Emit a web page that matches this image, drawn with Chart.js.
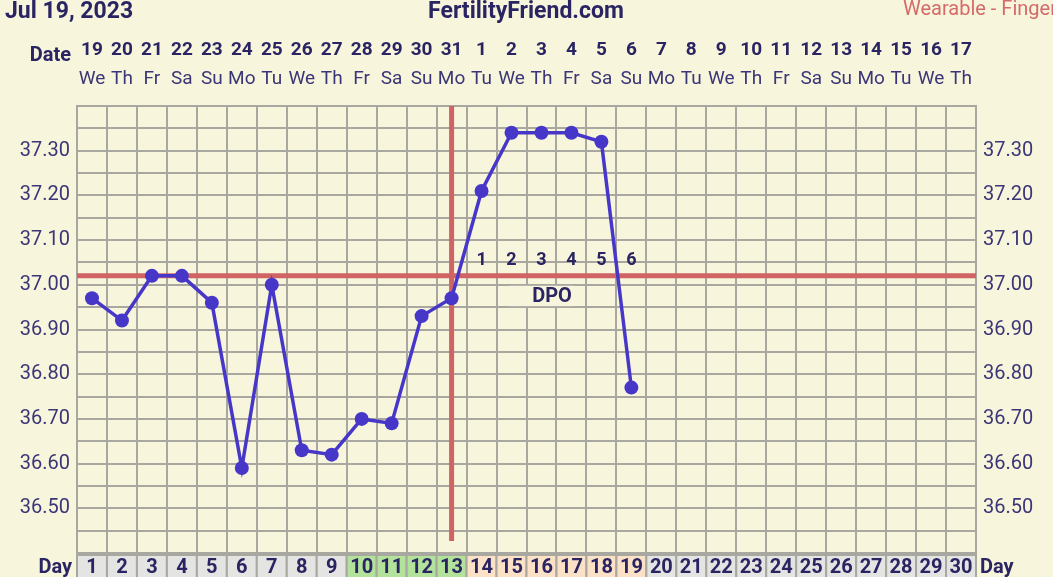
<!DOCTYPE html>
<html>
<head>
<meta charset="utf-8">
<script src="https://cdn.jsdelivr.net/npm/chart.js@4"></script>
<style>
  html, body { margin: 0; padding: 0; background: #f8f5dd; }
  #wrap { width: 1053px; height: 577px; }
</style>
</head>
<body>
<div id="wrap"><canvas id="myChart" width="1053" height="577"></canvas></div>
<script>
const cycleDays = [];
for (let d = 1; d <= 30; d++) cycleDays.push(d);
const dateNums = [19, 20, 21, 22, 23, 24, 25, 26, 27, 28, 29, 30, 31, 1, 2, 3, 4, 5, 6, 7, 8, 9, 10, 11, 12, 13, 14, 15, 16, 17];
const weekDays = ["We", "Th", "Fr", "Sa", "Su", "Mo", "Tu", "We", "Th", "Fr", "Sa", "Su", "Mo", "Tu", "We", "Th", "Fr", "Sa", "Su", "Mo", "Tu", "We", "Th", "Fr", "Sa", "Su", "Mo", "Tu", "We", "Th"];
const temps = [36.97, 36.92, 37.02, 37.02, 36.96, 36.59, 37.00, 36.63, 36.62, 36.70, 36.69, 36.93, 36.97, 37.21, 37.34, 37.34, 37.34, 37.32, 36.77];
const fertileDays = [10, 11, 12, 13];
const dpoDays = [14, 15, 16, 17, 18, 19];
const ovulationDay = 13;
const coverLine = 37.02;

const navy = "#2a2562";
const red = "#d06363";
const gridGray = "#a8a7a0";

const fertilityPlugin = {
    id: "fertility",
    beforeDraw(chart) {
        const c = chart.ctx;
        c.save();
        c.fillStyle = "#f8f5dd";
        c.fillRect(0, 0, chart.width, chart.height);
        c.restore();
    },
    beforeDatasetsDraw(chart) {
        const c = chart.ctx;
        const x = chart.scales.x;
        const y = chart.scales.y;
        const area = chart.chartArea;
        c.save();
        // cover line
        c.strokeStyle = red;
        c.lineWidth = 5;
        const yc = y.getPixelForValue(coverLine);
        c.beginPath();
        c.moveTo(area.left, yc);
        c.lineTo(area.right, yc);
        c.stroke();
        // ovulation line
        const xo = x.getPixelForValue(ovulationDay - 1);
        c.beginPath();
        c.moveTo(xo, area.top);
        c.lineTo(xo, area.bottom - 12);
        c.stroke();
        // DPO numbers
        c.fillStyle = navy;
        c.font = "bold 18px Roboto";
        c.textAlign = "center";
        c.textBaseline = "middle";
        dpoDays.forEach((d, i) => {
            c.fillText(String(i + 1), x.getPixelForValue(d - 1), yc - 15);
        });
        // DPO box
        const bx0 = x.getPixelForValue(14) - 2;
        const bx1 = x.getPixelForValue(16) + 3;
        const by0 = y.getPixelForValue(37.0) + 1;
        const by1 = y.getPixelForValue(36.95) - 1;
        c.fillStyle = "#f8f5dd";
        c.fillRect(bx0, by0, bx1 - bx0, by1 - by0);
        c.fillStyle = navy;
        c.font = "bold 20px Roboto";
        c.fillText("DPO", (bx0 + bx1) / 2 + 10, (by0 + by1) / 2 + 1);
        c.restore();
    },
    afterDraw(chart) {
        const c = chart.ctx;
        const x = chart.scales.x;
        const area = chart.chartArea;
        const colW = x.width / cycleDays.length;
        c.save();
        c.textBaseline = "middle";
        // title row
        c.fillStyle = navy;
        c.font = "bold 23px Roboto";
        c.textAlign = "left";
        c.fillText("Jul 19, 2023", 5, 12);
        c.textAlign = "center";
        c.fillText("FertilityFriend.com", 526, 12);
        c.fillStyle = "#d56a6a";
        c.font = "20px Roboto";
        c.textAlign = "left";
        c.fillText("Wearable - Finger", 903, 10);
        // date header
        c.fillStyle = navy;
        c.font = "bold 20px Roboto";
        c.textAlign = "right";
        c.fillText("Date", 71, 56);
        c.textAlign = "center";
        cycleDays.forEach((d, i) => {
            const px = x.getPixelForValue(i);
            c.fillStyle = navy;
            c.font = "bold 19px Roboto";
            c.fillText(String(dateNums[i]), px, 50);
            c.fillStyle = "#3b3677";
            c.font = "19px Roboto";
            c.fillText(weekDays[i], px, 79);
        });
        // day row
        const top = area.bottom + 2;
        cycleDays.forEach((d, i) => {
            const px = x.getPixelForValue(i);
            let fill = "#e4e4e2";
            if (fertileDays.includes(d)) fill = "#b3e29a";
            else if (dpoDays.includes(d)) fill = "#fbe2c6";
            c.fillStyle = fill;
            c.fillRect(px - colW / 2, top, colW, chart.height - top);
            c.strokeStyle = gridGray;
            c.lineWidth = 2;
            c.strokeRect(px - colW / 2, top, colW, chart.height - top + 4);
            c.fillStyle = navy;
            c.font = "bold 20px Roboto";
            c.fillText(String(d), px, top + 13);
        });
        c.font = "bold 20px Roboto";
        c.textAlign = "right";
        c.fillText("Day", 72, top + 13);
        c.textAlign = "left";
        c.fillText("Day", 980, top + 13);
        c.restore();
    }
};

const tickLabel = (v) => {
    const h = Math.round(v * 100);
    if (h % 10 === 0 && h >= 3650 && h <= 3730) return (h / 100).toFixed(2);
    return "";
};

const ctx = document.getElementById("myChart");
new Chart(ctx, {
    type: "line",
    data: {
        labels: cycleDays,
        datasets: [
            {
                data: temps,
                borderColor: "#4637c9",
                backgroundColor: "#4637c9",
                borderWidth: 3.5,
                pointRadius: 7,
                pointBorderWidth: 0,
                tension: 0,
            },
        ],
    },
    options: {
        responsive: false,
        animation: false,
        events: [],
        layout: { padding: { top: 106, left: 0, right: 0, bottom: 0 } },
        plugins: { legend: { display: false }, tooltip: { enabled: false } },
        scales: {
            x: {
                type: "category",
                offset: true,
                grid: { offset: true, color: gridGray, lineWidth: 2, drawTicks: false },
                border: { color: gridGray, width: 2 },
                ticks: { display: false },
                afterFit(scale) { scale.height = 24; },
            },
            y: {
                min: 36.4,
                max: 37.4,
                grid: { color: gridGray, lineWidth: 2, drawTicks: false },
                border: { color: gridGray, width: 2 },
                ticks: {
                    stepSize: 0.05,
                    autoSkip: false,
                    padding: 7,
                    color: "#3b3677",
                    font: { family: "Roboto", size: 20 },
                    callback: tickLabel,
                },
                afterFit(scale) { scale.width = 77; },
            },
            y2: {
                position: "right",
                min: 36.4,
                max: 37.4,
                grid: { display: false, drawTicks: false },
                border: { color: gridGray, width: 2 },
                ticks: {
                    stepSize: 0.05,
                    autoSkip: false,
                    padding: 7,
                    color: "#3b3677",
                    font: { family: "Roboto", size: 20 },
                    callback: tickLabel,
                },
                afterFit(scale) { scale.width = 77; },
            },
        },
    },
    plugins: [fertilityPlugin],
});
</script>
</body>
</html>
